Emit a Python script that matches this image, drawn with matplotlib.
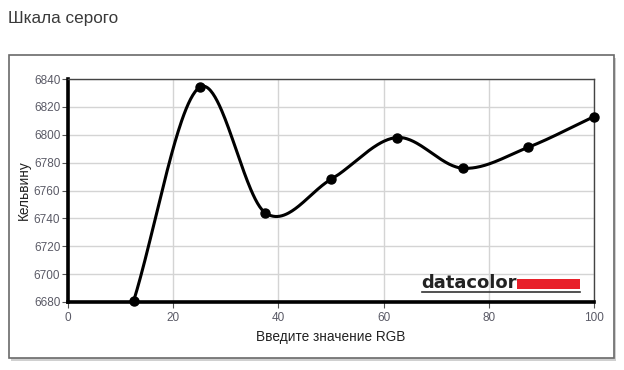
import numpy as np
import matplotlib.pyplot as plt
from matplotlib.patches import Rectangle
from matplotlib.lines import Line2D

plt.rcParams['font.family'] = ['Liberation Sans', 'DejaVu Sans']

# data
rgb = [12.5, 25, 37.5, 50, 62.5, 75, 87.5, 100]
kelvin = [6681, 6834, 6744, 6768, 6798, 6776, 6791, 6813]
x_ticks = [0, 20, 40, 60, 80, 100]
y_ticks = [6680, 6700, 6720, 6740, 6760, 6780, 6800, 6820, 6840]


def smooth_line(x, y, steps=60):
    # Catmull-Rom style hermite curve through the points
    x = np.asarray(x, float)
    y = np.asarray(y, float)
    m = np.gradient(y, x)
    xs, ys = [], []
    for i in range(len(x) - 1):
        h = x[i + 1] - x[i]
        t = np.linspace(0, 1, steps)
        h00 = 2 * t**3 - 3 * t**2 + 1
        h10 = t**3 - 2 * t**2 + t
        h01 = -2 * t**3 + 3 * t**2
        h11 = t**3 - t**2
        xs.append(x[i] + t * h)
        ys.append(h00 * y[i] + h10 * h * m[i] + h01 * y[i + 1] + h11 * h * m[i + 1])
    return np.concatenate(xs), np.concatenate(ys)


W, H = 624, 370
fig = plt.figure(figsize=(W / 100, H / 100), dpi=100)

# outer frame with a light shadow
fig.patches.append(Rectangle((11 / W, 1 - 361 / H), 605 / W, 303 / H,
                             transform=fig.transFigure, facecolor='#d0d0d0',
                             edgecolor='none', zorder=-2))
fig.patches.append(Rectangle((9 / W, 1 - 358 / H), 605 / W, 303 / H,
                             transform=fig.transFigure, facecolor='white',
                             edgecolor='#6a6a6a', lw=1.2, zorder=-1))

fig.text(8 / W, 1 - 19 / H, 'Шкала серого', fontsize=12.3, color='#3a3a3a',
         va='center', ha='left')

ax = fig.add_axes([68 / W, 1 - 302 / H, 526 / W, 223 / H])
ax.set_zorder(2)
xs, ys = smooth_line(rgb, kelvin)
ax.plot(xs, ys, color='black', lw=2.2, zorder=3, clip_on=False)
ax.plot(rgb, kelvin, 'o', color='black', ms=6.5, zorder=4, clip_on=False)

ax.set_xlim(0, 100)
ax.set_ylim(6680, 6840)
ax.set_xticks(x_ticks)
ax.set_yticks(y_ticks)
ax.grid(True, color='#d4d4d4', lw=1)
ax.set_axisbelow(True)
ax.tick_params(labelsize=8.5, labelcolor='#5a5a66', color='#555555',
               length=4.5, width=0.8, pad=1)
ax.tick_params(axis='x', pad=3)
for s in ['left', 'bottom']:
    ax.spines[s].set_linewidth(2.6)
    ax.spines[s].set_color('black')
for s in ['top', 'right']:
    ax.spines[s].set_linewidth(1)
    ax.spines[s].set_color('#444444')
ax.set_xlabel('Введите значение RGB', fontsize=9.8, color='#222222', labelpad=4)
ax.set_ylabel('Кельвину', fontsize=9.8, color='#222222', labelpad=2)

# datacolor logo
ax.text(421 / W, 1 - 283 / H, 'datacolor', fontsize=13, fontweight='bold',
        family='DejaVu Sans', color='#222222', va='center', ha='left',
        transform=fig.transFigure, zorder=6)
ax.add_patch(Rectangle((517 / W, 1 - 289 / H), 63 / W, 10 / H,
                       transform=fig.transFigure, facecolor='#e8202a',
                       edgecolor='none', zorder=5, clip_on=False))
ax.add_line(Line2D([422 / W, 580 / W], [1 - 292 / H, 1 - 292 / H],
                   transform=fig.transFigure, color='#333333', lw=1.2,
                   zorder=5, clip_on=False))

fig.savefig('out.png', dpi=100)
